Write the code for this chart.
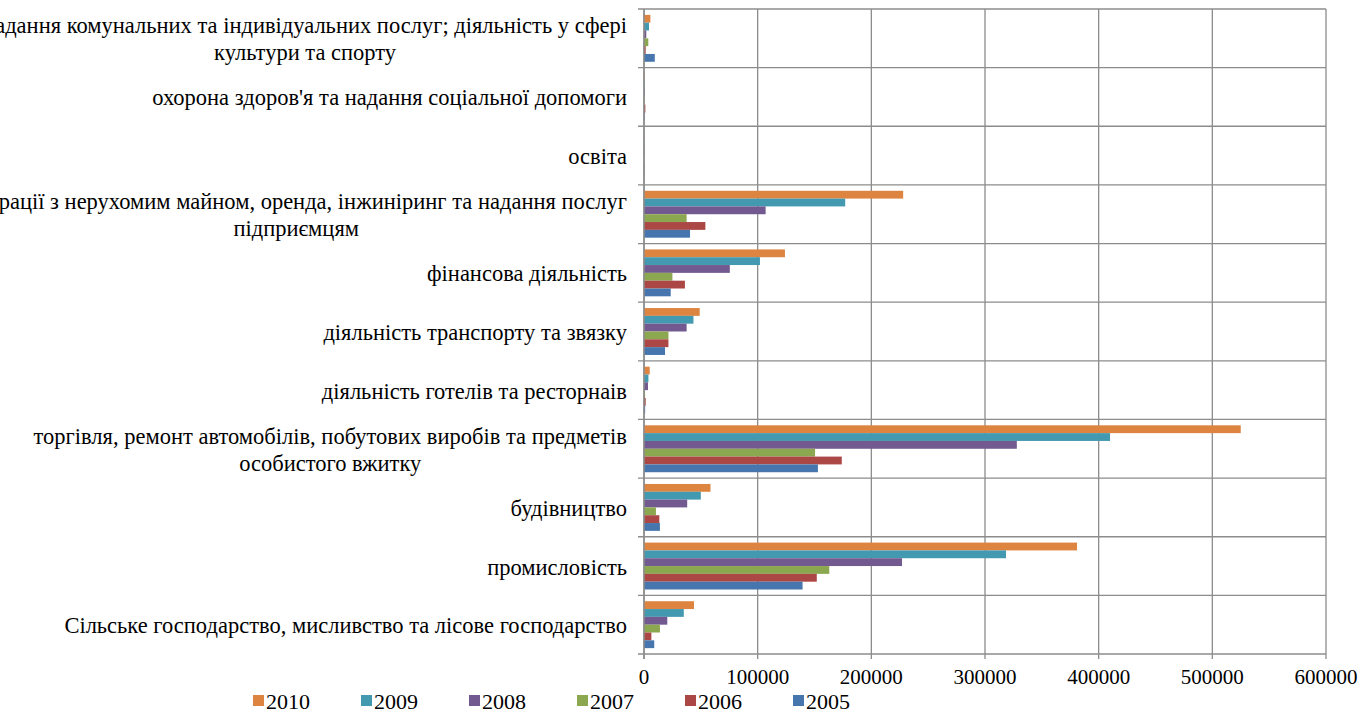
<!DOCTYPE html>
<html>
<head>
<meta charset="utf-8">
<script src="https://cdn.jsdelivr.net/npm/d3@7"></script>
</head>
<body style="margin:0">
<script>
// Categories from top to bottom, "\n" marks a line break in the label
const categories = [
  "надання комунальних та індивідуальних послуг; діяльність у сфері\nкультури та спорту",
  "охорона здоров'я та надання соціальної допомоги",
  "освіта",
  "операції з нерухомим майном, оренда, інжиніринг та надання послуг\nпідприємцям",
  "фінансова діяльність",
  "діяльність транспорту та звязку",
  "діяльність готелів та ресторнаів",
  "торгівля, ремонт автомобілів, побутових виробів та предметів\nособистого вжитку",
  "будівництво",
  "промисловість",
  "Сільське господарство, мисливство та лісове господарство",
];

// Series, in legend order (top bar in each group first)
const years = ["2010", "2009", "2008", "2007", "2006", "2005"];

// Values per year, same order as categories
const values2010 = [5600, 600, 300, 228000, 124000, 49000, 5000, 525000, 58500, 381000, 44000];
const values2009 = [4400, 500, 200, 177000, 102000, 43500, 3900, 410000, 50000, 318500, 35000];
const values2008 = [2000, 600, 300, 107000, 75500, 37500, 3500, 328000, 38000, 227000, 20500];
const values2007 = [3800, 400, 200, 37500, 25000, 21500, 900, 150500, 10500, 163000, 14000];
const values2006 = [1500, 1200, 300, 54000, 36000, 21500, 1500, 174000, 13500, 152000, 6500];
const values2005 = [9500, 500, 200, 40500, 23500, 18500, 1000, 153000, 14000, 139500, 9000];

const xTicks = [0, 100000, 200000, 300000, 400000, 500000, 600000];
const colors = ["#dd8440", "#4299b0", "#72598f", "#8ba74f", "#ab4744", "#4676ad"];

const seriesValues = [values2010, values2009, values2008, values2007, values2006, values2005];

const width = 1360;
const height = 715;
const margin = { top: 9, right: 34, bottom: 61, left: 644 };
const serif = "'Liberation Serif', 'Times New Roman', serif";

const svg = d3
  .select("body")
  .append("svg")
  .attr("width", width)
  .attr("height", height);

const x = d3
  .scaleLinear()
  .domain([0, 600000])
  .range([margin.left, width - margin.right]);

const y = d3
  .scaleBand()
  .domain(categories)
  .range([margin.top, height - margin.bottom]);

// 6 bars fill the band, gap of 150% of a bar
const inner = d3
  .scaleBand()
  .domain(years)
  .range([0, y.bandwidth()])
  .paddingInner(0)
  .paddingOuter(0.75);

// Vertical gridlines
svg
  .append("g")
  .selectAll("line")
  .data(xTicks)
  .enter()
  .append("line")
  .attr("x1", (d) => x(d))
  .attr("x2", (d) => x(d))
  .attr("y1", margin.top)
  .attr("y2", height - margin.bottom + 5)
  .style("stroke", "#8c8c8c")
  .style("stroke-width", 1.3);

// Horizontal lines between categories
const boundaries = categories.map((c) => y(c)).concat([height - margin.bottom]);
svg
  .append("g")
  .selectAll("line")
  .data(boundaries)
  .enter()
  .append("line")
  .attr("x1", margin.left - 6)
  .attr("x2", width - margin.right)
  .attr("y1", (d) => d)
  .attr("y2", (d) => d)
  .style("stroke", "#8c8c8c")
  .style("stroke-width", 1.3);

// Bars
const groups = svg
  .append("g")
  .selectAll("g")
  .data(years)
  .enter()
  .append("g")
  .style("fill", (d, i) => colors[i]);

groups
  .selectAll("rect")
  .data((yr, i) => seriesValues[i].map((v, j) => ({ yr: yr, v: v, cat: categories[j] })))
  .enter()
  .append("rect")
  .attr("x", x(0))
  .attr("y", (d) => y(d.cat) + inner(d.yr))
  .attr("width", (d) => x(d.v) - x(0))
  .attr("height", inner.bandwidth());

// Left axis line
svg
  .append("line")
  .attr("x1", x(0))
  .attr("x2", x(0))
  .attr("y1", margin.top)
  .attr("y2", height - margin.bottom + 5)
  .style("stroke", "#8c8c8c")
  .style("stroke-width", 1.5);

// X tick labels
svg
  .append("g")
  .selectAll("text")
  .data(xTicks)
  .enter()
  .append("text")
  .attr("x", (d) => x(d))
  .attr("y", 684)
  .attr("text-anchor", "middle")
  .style("font-family", serif)
  .style("font-size", "21px")
  .text((d) => d);

// Category labels: html blocks, right aligned, lines centred (no measuring needed)
const labelRight = margin.left - 17;
const labelBox = svg
  .append("g")
  .selectAll("foreignObject")
  .data(categories)
  .enter()
  .append("foreignObject")
  .attr("x", 0)
  .attr("y", (d) => y(d) - 10)
  .attr("width", labelRight)
  .attr("height", y.bandwidth() + 20)
  .append("xhtml:div")
  .style("display", "flex")
  .style("justify-content", "flex-end")
  .style("align-items", "center")
  .style("height", "100%")
  .style("margin-top", "1px");

labelBox
  .append("xhtml:div")
  .style("text-align", "center")
  .style("white-space", "nowrap")
  .style("font-family", serif)
  .style("font-size", "22.5px")
  .style("line-height", "27px")
  .style("color", "#000")
  .selectAll("div")
  .data((d) => d.split("\n"))
  .enter()
  .append("xhtml:div")
  .text((d) => d);

// Legend
const legend = svg
  .append("g")
  .selectAll("g")
  .data(years)
  .enter()
  .append("g")
  .attr("transform", (d, i) => `translate(${253 + i * 108},701)`);

legend
  .append("rect")
  .attr("x", 0)
  .attr("y", -6)
  .attr("width", 11)
  .attr("height", 11)
  .style("fill", (d, i) => colors[i]);

legend
  .append("text")
  .attr("x", 13)
  .attr("y", 8)
  .style("font-family", serif)
  .style("font-size", "22px")
  .text((d) => d);
</script>
</body>
</html>
